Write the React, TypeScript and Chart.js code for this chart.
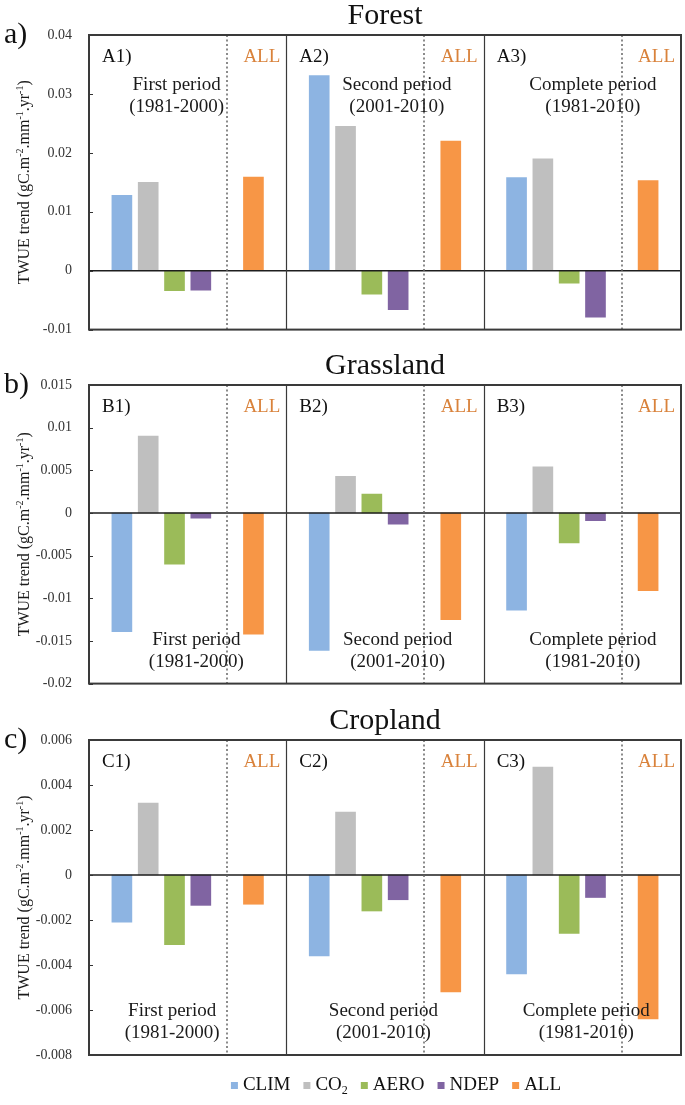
import React, { useEffect, useRef } from "react";
import { Chart, registerables } from "chart.js";

Chart.register(...registerables);

const FONT = '"Liberation Serif", "Times New Roman", serif';

// ---------- data ----------
const SERIES_NAMES = ["CLIM", "CO2", "AERO", "NDEP", "ALL"];
const SERIES_COLORS = ["#8DB4E2", "#BFBFBF", "#9BBB59", "#8064A2", "#F79646"];
const PERIOD_NAMES = ["First period", "Second period", "Complete period"];
const PERIOD_YEARS = ["(1981-2000)", "(2001-2010)", "(1981-2010)"];

// Forest (A1, A2, A3)
const FOREST_CLIM = [0.0128, 0.0331, 0.0158];
const FOREST_CO2 = [0.015, 0.0245, 0.019];
const FOREST_AERO = [-0.0034, -0.004, -0.0021];
const FOREST_NDEP = [-0.0033, -0.0066, -0.0079];
const FOREST_ALL = [0.0159, 0.022, 0.0153];
const FOREST_TICKS = [-0.01, 0, 0.01, 0.02, 0.03, 0.04];
const FOREST_TICK_LABELS = ["-0.01", "0", "0.01", "0.02", "0.03", "0.04"];

// Grassland (B1, B2, B3)
const GRASS_CLIM = [-0.0139, -0.0161, -0.0114];
const GRASS_CO2 = [0.009, 0.0043, 0.0054];
const GRASS_AERO = [-0.006, 0.0022, -0.0035];
const GRASS_NDEP = [-0.0006, -0.0013, -0.0009];
const GRASS_ALL = [-0.0142, -0.0125, -0.0091];
const GRASS_TICKS = [-0.02, -0.015, -0.01, -0.005, 0, 0.005, 0.01, 0.015];
const GRASS_TICK_LABELS = ["-0.02", "-0.015", "-0.01", "-0.005", "0", "0.005", "0.01", "0.015"];

// Cropland (C1, C2, C3)
const CROP_CLIM = [-0.0021, -0.0036, -0.0044];
const CROP_CO2 = [0.0032, 0.0028, 0.0048];
const CROP_AERO = [-0.0031, -0.0016, -0.0026];
const CROP_NDEP = [-0.00135, -0.0011, -0.001];
const CROP_ALL = [-0.0013, -0.0052, -0.0064];
const CROP_TICKS = [-0.008, -0.006, -0.004, -0.002, 0, 0.002, 0.004, 0.006];
const CROP_TICK_LABELS = ["-0.008", "-0.006", "-0.004", "-0.002", "0", "0.002", "0.004", "0.006"];

// ---------- layout (x in slot units) ----------
const SUB_SPAN = 7.5;
const SERIES_SLOT = [1.25, 2.25, 3.25, 4.25, 6.25];
const DASH_SLOT = 5.25;

type Panel = {
  title: string;
  letter: string;
  prefix: string;
  values: number[][];
  ticks: number[];
  tickLabels: string[];
  top: number;
  height: number;
  padTop: number;
  padBottom: number;
  periodAt: "top" | "bottom";
  periodX: number[];
  legend: boolean;
};

const PANELS: Panel[] = [
  {
    title: "Forest",
    letter: "a)",
    prefix: "A",
    values: [FOREST_CLIM, FOREST_CO2, FOREST_AERO, FOREST_NDEP, FOREST_ALL],
    ticks: FOREST_TICKS,
    tickLabels: FOREST_TICK_LABELS,
    top: 0,
    height: 355,
    padTop: 35,
    padBottom: 9,
    periodAt: "top",
    periodX: [3.33, 4.2, 4.15],
    legend: false,
  },
  {
    title: "Grassland",
    letter: "b)",
    prefix: "B",
    values: [GRASS_CLIM, GRASS_CO2, GRASS_AERO, GRASS_NDEP, GRASS_ALL],
    ticks: GRASS_TICKS,
    tickLabels: GRASS_TICK_LABELS,
    top: 340,
    height: 369,
    padTop: 45,
    padBottom: 9,
    periodAt: "bottom",
    periodX: [4.08, 4.23, 4.15],
    legend: false,
  },
  {
    title: "Cropland",
    letter: "c)",
    prefix: "C",
    values: [CROP_CLIM, CROP_CO2, CROP_AERO, CROP_NDEP, CROP_ALL],
    ticks: CROP_TICKS,
    tickLabels: CROP_TICK_LABELS,
    top: 694,
    height: 411,
    padTop: 46,
    padBottom: 50,
    periodAt: "bottom",
    periodX: [3.16, 3.69, 3.9],
    legend: true,
  },
];

// parts: [text, 0 normal | 1 superscript | -1 subscript]
function richWidth(ctx: CanvasRenderingContext2D, parts: [string, number][], size: number) {
  let w = 0;
  for (const [t, m] of parts) {
    ctx.font = `${m === 0 ? size : Math.round(size * 0.65)}px ${FONT}`;
    w += ctx.measureText(t).width;
  }
  return w;
}

function drawRich(
  ctx: CanvasRenderingContext2D,
  parts: [string, number][],
  x: number,
  baseline: number,
  size: number
) {
  let cx = x;
  ctx.textAlign = "left";
  ctx.textBaseline = "alphabetic";
  for (const [t, m] of parts) {
    const s = m === 0 ? size : Math.round(size * 0.65);
    ctx.font = `${s}px ${FONT}`;
    const dy = m === 1 ? -size * 0.38 : m === -1 ? size * 0.2 : 0;
    ctx.fillText(t, cx, baseline + dy);
    cx += ctx.measureText(t).width;
  }
  return cx;
}

const Y_TITLE: [string, number][] = [
  ["TWUE trend (gC.m", 0],
  ["-2", 1],
  [".mm", 0],
  ["-1", 1],
  [".yr", 0],
  ["-1", 1],
  [")", 0],
];

function decorPlugin(p: Panel) {
  return {
    id: "decor",
    afterDatasetsDraw(chart: any) {
      const ctx: CanvasRenderingContext2D = chart.ctx;
      const ca = chart.chartArea;
      const xs = chart.scales.x;
      const ys = chart.scales.y;
      ctx.save();

      // zero line
      const y0 = ys.getPixelForValue(0);
      ctx.strokeStyle = "#1e1e1e";
      ctx.lineWidth = 1.5;
      ctx.beginPath();
      ctx.moveTo(ca.left, y0);
      ctx.lineTo(ca.right, y0);
      ctx.stroke();

      // inner tick marks
      ctx.lineWidth = 1;
      ctx.strokeStyle = "#333";
      for (const t of p.ticks) {
        const y = Math.round(ys.getPixelForValue(t)) + 0.5;
        ctx.beginPath();
        ctx.moveTo(ca.left, y);
        ctx.lineTo(ca.left + 4, y);
        ctx.stroke();
      }

      // sub-panel dividers
      ctx.strokeStyle = "#3a3a3a";
      ctx.lineWidth = 1.2;
      for (let k = 1; k < 3; k++) {
        const x = Math.round(xs.getPixelForValue(k * SUB_SPAN)) + 0.5;
        ctx.beginPath();
        ctx.moveTo(x, ca.top);
        ctx.lineTo(x, ca.bottom);
        ctx.stroke();
      }

      // dotted separators before ALL
      ctx.strokeStyle = "#666";
      ctx.lineWidth = 1.5;
      ctx.setLineDash([2, 2.5]);
      for (let k = 0; k < 3; k++) {
        const x = Math.round(xs.getPixelForValue(k * SUB_SPAN + DASH_SLOT));
        ctx.beginPath();
        ctx.moveTo(x, ca.top);
        ctx.lineTo(x, ca.bottom);
        ctx.stroke();
      }
      ctx.setLineDash([]);

      // frame
      ctx.strokeStyle = "#3a3a3a";
      ctx.lineWidth = 2;
      ctx.strokeRect(ca.left, ca.top, ca.right - ca.left, ca.bottom - ca.top);

      // title and panel letter
      ctx.fillStyle = "#111";
      ctx.textBaseline = "middle";
      ctx.textAlign = "center";
      ctx.font = `30px ${FONT}`;
      ctx.fillText(p.title, (ca.left + ca.right) / 2, ca.top - 19);
      ctx.textAlign = "left";
      ctx.fillText(p.letter, 4, ca.top);

      // sub-panel texts
      for (let k = 0; k < 3; k++) {
        const left = xs.getPixelForValue(k * SUB_SPAN);
        const right = xs.getPixelForValue((k + 1) * SUB_SPAN);
        ctx.font = `19px ${FONT}`;
        ctx.textBaseline = "middle";
        ctx.fillStyle = "#111";
        ctx.textAlign = "left";
        ctx.fillText(`${p.prefix}${k + 1})`, left + 13, ca.top + 22);
        ctx.fillStyle = "#D9823B";
        ctx.textAlign = "right";
        ctx.fillText("ALL", right - 6, ca.top + 22);
        ctx.fillStyle = "#1a1a1a";
        ctx.textAlign = "center";
        const px = xs.getPixelForValue(k * SUB_SPAN + p.periodX[k]);
        const y1 = p.periodAt === "top" ? ca.top + 50 : ca.bottom - 44;
        ctx.fillText(PERIOD_NAMES[k], px, y1);
        ctx.fillText(PERIOD_YEARS[k], px, y1 + 22);
      }

      // y-axis title (rotated)
      ctx.save();
      const cy = (ca.top + ca.bottom) / 2;
      ctx.translate(24, cy);
      ctx.rotate(-Math.PI / 2);
      ctx.fillStyle = "#1a1a1a";
      const w = richWidth(ctx, Y_TITLE, 16);
      drawRich(ctx, Y_TITLE, -w / 2, 5, 16);
      ctx.restore();

      // legend
      if (p.legend) {
        const ly = ca.bottom + 28;
        const items: [string, number][][] = [
          [["CLIM", 0]],
          [["CO", 0], ["2", -1]],
          [["AERO", 0]],
          [["NDEP", 0]],
          [["ALL", 0]],
        ];
        const box = 7;
        const gap = 5;
        const space = 13;
        const widths = items.map((it) => richWidth(ctx, it, 19));
        const total =
          widths.reduce((a, b) => a + b, 0) + items.length * (box + gap) + (items.length - 1) * space;
        let x = 396 - total / 2;
        items.forEach((it, i) => {
          ctx.fillStyle = SERIES_COLORS[i];
          ctx.fillRect(x, ly - 1, box, box);
          x += box + gap;
          ctx.fillStyle = "#111";
          drawRich(ctx, it, x, ly + 7, 19);
          x += widths[i] + space;
        });
      }

      ctx.restore();
    },
  };
}

function makeChart(canvas: HTMLCanvasElement, p: Panel) {
  return new Chart(canvas, {
    type: "bar",
    data: {
      datasets: SERIES_NAMES.map((name, s) => ({
        label: name,
        data: p.values[s].map((v, k) => ({ x: k * SUB_SPAN + SERIES_SLOT[s], y: v })),
        backgroundColor: SERIES_COLORS[s],
        borderWidth: 0,
        barThickness: 20,
        grouped: false,
      })),
    } as any,
    options: {
      responsive: false,
      animation: false,
      events: [],
      layout: { padding: { top: p.padTop, bottom: p.padBottom, left: 0, right: 4 } },
      plugins: {
        legend: { display: false },
        tooltip: { enabled: false },
        title: { display: false },
      },
      scales: {
        x: {
          type: "linear",
          min: 0,
          max: SUB_SPAN * 3,
          offset: false,
          display: false,
          grid: { display: false },
        },
        y: {
          type: "linear",
          min: p.ticks[0],
          max: p.ticks[p.ticks.length - 1],
          afterBuildTicks: (axis: any) => {
            axis.ticks = p.ticks.map((v) => ({ value: v }));
          },
          afterFit: (axis: any) => {
            axis.width = 89;
          },
          grid: { display: false, drawTicks: false },
          border: { display: false },
          ticks: {
            font: { family: FONT, size: 14 },
            color: "#333",
            padding: 17,
            autoSkip: false,
            callback: (_v: any, i: number) => p.tickLabels[i],
          },
        },
      },
    } as any,
    plugins: [decorPlugin(p)],
  });
}

export default function App() {
  const refs = useRef<(HTMLCanvasElement | null)[]>([]);

  useEffect(() => {
    document.body.style.margin = "0";
    const charts = PANELS.map((p, i) => makeChart(refs.current[i] as HTMLCanvasElement, p));
    return () => charts.forEach((c) => c.destroy());
  }, []);

  return (
    <div style={{ position: "relative", width: 685, height: 1105, background: "#fff", overflow: "hidden" }}>
      {PANELS.map((p, i) => (
        <canvas
          key={p.title}
          ref={(el) => {
            refs.current[i] = el;
          }}
          width={685}
          height={p.height}
          style={{ position: "absolute", left: 0, top: p.top, display: "block" }}
        />
      ))}
    </div>
  );
}
